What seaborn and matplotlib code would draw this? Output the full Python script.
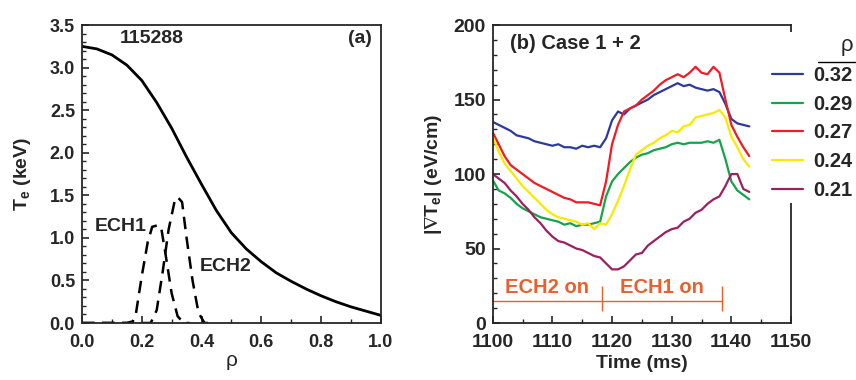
import numpy as np
import pandas as pd
import matplotlib
matplotlib.use('Agg')
import matplotlib.pyplot as plt
from matplotlib.ticker import MultipleLocator
from matplotlib.lines import Line2D
import seaborn as sns

# ---- panel (a): Te profile and ECH deposition ----
rho = [0.0, 0.05, 0.1, 0.15, 0.2, 0.25, 0.3, 0.35, 0.4, 0.45, 0.5, 0.55, 0.6,
       0.65, 0.7, 0.75, 0.8, 0.85, 0.9, 0.95, 1.0]
te = [3.25, 3.22, 3.15, 3.03, 2.85, 2.59, 2.29, 1.95, 1.63, 1.32, 1.06, 0.87, 0.72,
      0.59, 0.49, 0.40, 0.32, 0.25, 0.19, 0.14, 0.09]

rho_ech1 = [0.0, 0.15, 0.17, 0.18, 0.20, 0.22, 0.235, 0.255, 0.265, 0.28, 0.30, 0.32, 0.34, 0.36]
ech1 = [0.0, 0.0, 0.02, 0.10, 0.55, 0.95, 1.13, 1.15, 1.12, 0.80, 0.35, 0.08, 0.0, 0.0]
rho_ech2 = [0.0, 0.23, 0.25, 0.27, 0.29, 0.31, 0.32, 0.335, 0.35, 0.37, 0.39, 0.41, 0.43]
ech2 = [0.0, 0.0, 0.15, 0.60, 1.10, 1.43, 1.48, 1.42, 1.00, 0.50, 0.12, 0.0, 0.0]

# ---- panel (b): |grad Te| time traces ----
time = list(range(1100, 1144))
g032 = [135, 133, 131, 129, 126, 125, 124, 122, 121, 120, 119, 120, 118, 118, 117, 119, 118, 119, 118,
        124, 136, 142, 140, 144, 146, 148, 150, 153, 155, 157, 159, 161, 159, 160, 158, 157, 156, 157,
        155, 147, 137, 134, 133, 132]
g029 = [96, 89, 87, 84, 80, 77, 75, 73, 71, 70, 69, 68, 66, 67, 65, 66, 66, 67, 68,
        85, 95, 100, 104, 108, 111, 113, 114, 116, 117, 118, 120, 121, 120, 121, 121, 121, 122, 121,
        123, 110, 95, 89, 86, 83]
g027 = [128, 120, 112, 106, 103, 100, 97, 94, 92, 90, 88, 86, 84, 83, 81, 81, 81, 80, 79,
        95, 120, 133, 142, 144, 146, 150, 153, 156, 160, 163, 165, 167, 165, 168, 172, 168, 167, 172,
        168, 150, 133, 125, 118, 112]
g024 = [125, 115, 107, 102, 97, 92, 88, 84, 80, 76, 73, 71, 70, 69, 68, 66, 67, 63, 67,
        66, 73, 82, 92, 103, 113, 116, 119, 121, 124, 126, 129, 128, 132, 133, 138, 139, 140, 141,
        143, 138, 125, 118, 110, 105]
g021 = [100, 97, 94, 89, 85, 80, 76, 71, 67, 62, 58, 55, 54, 52, 50, 49, 47, 45, 44,
        40, 36, 36, 38, 42, 46, 47, 52, 55, 58, 61, 63, 64, 68, 70, 74, 76, 80, 83,
        85, 92, 100, 100, 90, 88]

rho_labels = ['0.32', '0.29', '0.27', '0.24', '0.21']
colors = ['#2b3a9c', '#16a349', '#ee1c24', '#f7ea00', '#9c1f5e']

ech_color = '#e8602c'
ech2_on = [1100, 1118.3]
ech1_on = [1118.3, 1138.5]

sns.set_style('ticks')
plt.rcParams['font.family'] = ['Liberation Sans', 'DejaVu Sans']
plt.rcParams['font.weight'] = 'bold'
plt.rcParams['axes.labelweight'] = 'bold'
plt.rcParams['mathtext.default'] = 'regular'
plt.rcParams['xtick.direction'] = 'in'
plt.rcParams['ytick.direction'] = 'in'

fig = plt.figure(figsize=(8.56, 3.8), dpi=100)
ax1 = fig.add_axes([0.0958, 0.15, 0.349, 0.784])
ax2 = fig.add_axes([0.5756, 0.15, 0.3485, 0.784])

# panel (a)
sns.lineplot(x=rho, y=te, ax=ax1, color='black', lw=2.0)
sns.lineplot(x=rho_ech1, y=ech1, ax=ax1, color='black', lw=1.8, linestyle=(0, (5, 3)))
sns.lineplot(x=rho_ech2, y=ech2, ax=ax1, color='black', lw=1.8, linestyle=(0, (5, 3)))
ax1.set_xlim(0, 1.0)
ax1.set_ylim(0, 3.5)
ax1.xaxis.set_minor_locator(MultipleLocator(0.1))
ax1.yaxis.set_minor_locator(MultipleLocator(0.1))
xt1 = np.arange(0, 1.01, 0.2)
yt1 = np.arange(0, 3.51, 0.5)
ax1.set_xticks(xt1)
ax1.set_xticklabels([f'{v:.1f}' for v in xt1], fontweight='bold')
ax1.set_yticks(yt1)
ax1.set_yticklabels([f'{v:.1f}' for v in yt1], fontweight='bold')
ax1.set_xlabel('ρ', fontsize=15, fontweight='normal', labelpad=0)
ax1.set_ylabel('T$_e$ (keV)', fontsize=14, labelpad=12)
ax1.text(0.233, 3.34, '115288', fontsize=14, ha='center', va='center')
ax1.text(0.93, 3.34, '(a)', fontsize=14, ha='center', va='center')
ax1.text(0.13, 1.13, 'ECH1', fontsize=14, ha='center', va='center')
ax1.text(0.48, 0.66, 'ECH2', fontsize=14, ha='center', va='center')

# panel (b)
series = [g032, g029, g027, g024, g021]
for vals, lab, col in zip(series, rho_labels, colors):
    sns.lineplot(x=time, y=vals, ax=ax2, color=col, lw=1.6, label=lab)
ax2.set_xlim(1100, 1150)
ax2.set_ylim(0, 200)
ax2.xaxis.set_minor_locator(MultipleLocator(5))
ax2.yaxis.set_minor_locator(MultipleLocator(10))
xt2 = list(range(1100, 1151, 10))
yt2 = list(range(0, 201, 50))
ax2.set_xticks(xt2)
ax2.set_xticklabels([str(v) for v in xt2], fontweight='bold')
ax2.set_yticks(yt2)
ax2.set_yticklabels([str(v) for v in yt2], fontweight='bold')
ax2.set_xlabel('Time (ms)', fontsize=14, labelpad=3)
ax2.set_ylabel(r'|$\nabla$T$_e$| (eV/cm)', fontsize=14, labelpad=7)
ax2.text(1102.9, 187.7, '(b) Case 1 + 2', fontsize=14.5, ha='left', va='center')

ax2.plot([ech2_on[0], ech1_on[1]], [15, 15], color=ech_color, lw=1.0)
ax2.vlines([ech2_on[1], ech1_on[1]], 8, 25, color=ech_color, lw=1.0)
ax2.text(sum(ech2_on) / 2, 24, 'ECH2 on', color=ech_color, fontsize=14.5, ha='center', va='center')
ax2.text(sum(ech1_on) / 2, 24, 'ECH1 on', color=ech_color, fontsize=14.5, ha='center', va='center')

leg = ax2.legend(title='ρ', loc='upper right', bbox_to_anchor=(1.0, 0.915),
                 bbox_transform=fig.transFigure, frameon=True, fancybox=False,
                 edgecolor='none', facecolor='white', framealpha=1.0,
                 fontsize=14.5, title_fontsize=16, handlelength=1.5,
                 labelspacing=0.48, handletextpad=0.55, borderpad=0.15,
                 borderaxespad=0)
leg.get_title().set_fontweight('normal')
leg._legend_box.align = 'right'
fig.add_artist(Line2D([0.956, 0.999], [0.838, 0.838], transform=fig.transFigure,
                      color='black', lw=1.0))

for ax, ls in ((ax1, 13), (ax2, 14)):
    for sp in ax.spines.values():
        sp.set_linewidth(1.3)
    ax.tick_params(which='major', length=5, width=1.2, labelsize=ls)
    ax.tick_params(axis='x', which='major', pad=8)
    ax.tick_params(axis='y', which='major', pad=5)
    ax.tick_params(which='minor', length=3, width=1.0)

fig.savefig('out.png', dpi=100)
